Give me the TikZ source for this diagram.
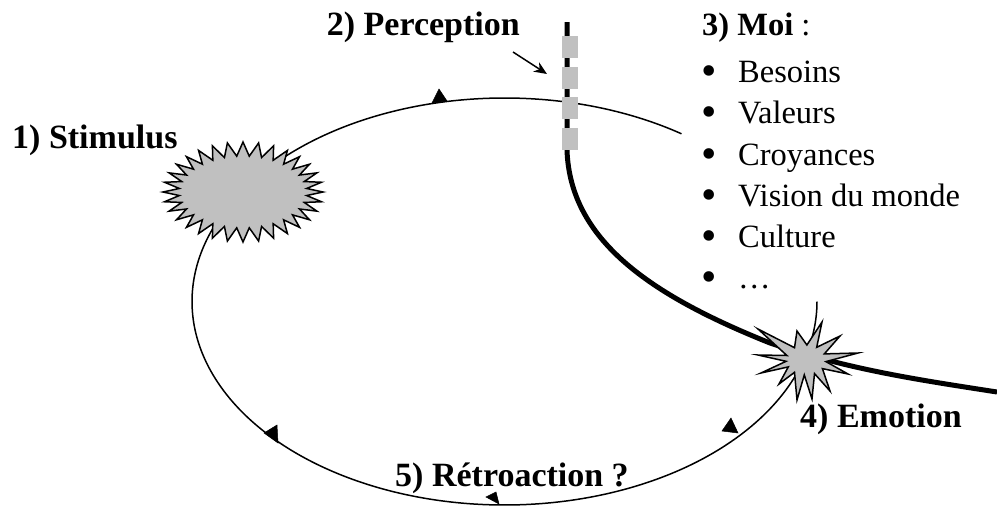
\documentclass[tikz,border=0pt]{standalone}
\usepackage{fontspec}
\setmainfont{Liberation Serif}
\usetikzlibrary{arrows.meta}
\definecolor{silver}{RGB}{192,192,192}
\begin{document}
\begin{tikzpicture}[x=1pt,y=-1pt,
  lbl/.style={font=\fontsize{34}{38}\selectfont\bfseries, inner sep=0pt},
  itemtxt/.style={font=\fontsize{32.5}{36}\selectfont, inner sep=0pt, anchor=base west},
  bul/.style={font=\fontsize{44}{44}\selectfont, inner sep=0pt, anchor=base west},
  loopline/.style={line width=1.5pt},
  heavyline/.style={line width=5pt},
  starshape/.style={fill=silver, draw=black, line width=1.5pt, line join=miter},
  marker/.style={fill=black, draw=black, line width=0.5pt},
  tick/.style={fill=silver, draw=none}
]
\useasboundingbox (0,0) rectangle (997,507);

% feedback loop (ellipse with a gap at the upper right)
\draw[loopline] plot[domain=0:304.5, samples=300, smooth]
  ({504.5+312.5*cos(\x)},{301.5+203.5*sin(\x)});

% heavy perception line
\coordinate (h0) at (567,22);
\coordinate (h1) at (567,150);
\coordinate (h2) at (770,343);
\coordinate (h3) at (997,392);
\draw[heavyline] (h0) -- (h1) .. controls (570,240) and (650,295) .. (h2)
  .. controls (850,370) and (920,380) .. (h3);

% gray filter blocks
\foreach \y in {36,67,97,128}
  \fill[tick] (562,\y) rectangle (578,\y+22);

% stimulus burst
\filldraw[starshape] plot[domain=0:360, samples=65]
  ({243+(80-16*mod(round(\x/5.625),2))*cos(\x)},{192+(50-14*mod(round(\x/5.625),2))*sin(\x)}) -- cycle;
\coordinate (stim) at (243,192);

% emotion burst
\filldraw[starshape] (758,329) -- (794.5,347.7) -- (797,331) -- (806.9,345) -- (822,322)
  -- (816.7,347.3) -- (840,336) -- (824.3,353.9) -- (858,353) -- (825.9,361.6)
  -- (848,374) -- (822.4,368.6) -- (830,391) -- (814.5,373.6) -- (812,399)
  -- (804.3,374.9) -- (797,400) -- (794.5,372.3) -- (779,384) -- (788.3,366.9)
  -- (761,373) -- (786.1,361.3) -- (758,355) -- (786.9,355.5) -- cycle;
\coordinate (emo) at (806,360);

% direction markers on the loop
\filldraw[marker] (432,103) -- (447,101) -- (439,89) -- cycle;
\filldraw[marker] (264,433) -- (277,425) -- (278,443) -- cycle;
\filldraw[marker] (486,497) -- (496,492) -- (499,504) -- cycle;
\filldraw[marker] (731,418) -- (722,431) -- (738,433) -- cycle;

% perception pointer
\coordinate (pa) at (513,52);
\coordinate (pb) at (547,74);
\draw[line width=1.5pt, -{Stealth[length=13pt,width=11pt]}] (pa) -- (pb);

% labels
\node[lbl, anchor=base west] (stimulus) at (12,148) {1) Stimulus};
\node[lbl, anchor=base east] (perception) at (520,35) {2) Perception};
\node[itemtxt] (moi) at (702,35) {{\bfseries 3) Moi} :};
\node[bul] (b1) at (701,85) {•};
\node[itemtxt] (i1) at (738,82) {Besoins};
\node[bul] (b2) at (701,126) {•};
\node[itemtxt] (i2) at (738,123) {Valeurs};
\node[bul] (b3) at (701,168) {•};
\node[itemtxt] (i3) at (738,165) {Croyances};
\node[bul] (b4) at (701,209) {•};
\node[itemtxt] (i4) at (738,206) {Vision du monde};
\node[bul] (b5) at (701,250) {•};
\node[itemtxt] (i5) at (738,247) {Culture};
\node[bul] (b6) at (701,291) {•};
\node[itemtxt] (i6) at (738,288) {…};
\node[lbl, anchor=base west] (emotion) at (800,427) {4) Emotion};
\node[lbl, anchor=base] (retro) at (512,486) {5) Rétroaction ?};
\end{tikzpicture}
\end{document}
